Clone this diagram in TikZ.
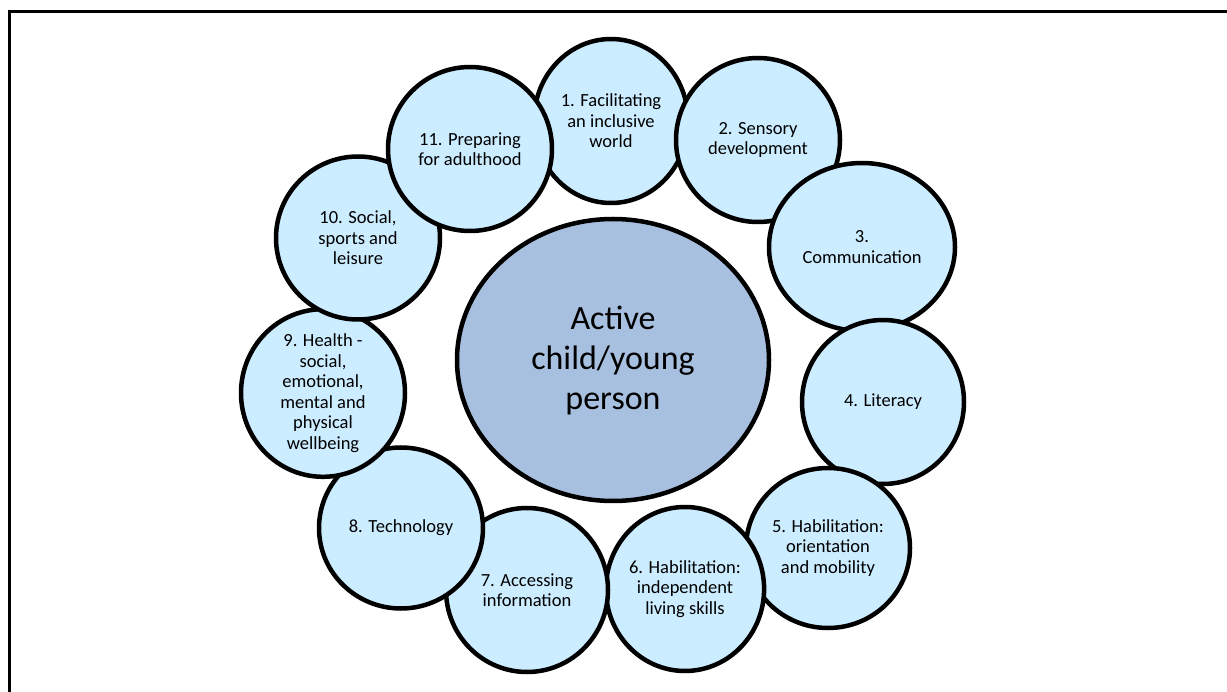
\documentclass[tikz,border=0pt]{standalone}
\usepackage{fontspec}
\setmainfont{Carlito}
\usetikzlibrary{shapes.geometric}

\definecolor{petalblue}{HTML}{CCECFF}
\definecolor{hubblue}{HTML}{A8C0DF}

\tikzset{
  petal/.style={ellipse,draw=black,line width=4.5pt,fill=petalblue,
    minimum width=164pt,minimum height=164pt,inner sep=0pt,align=center,
    font=\fontsize{18.5}{20.5}\selectfont},
  hub/.style={ellipse,draw=black,line width=4.5pt,fill=hubblue,
    minimum width=312pt,minimum height=282pt,inner sep=0pt,align=center,
    font=\fontsize{34}{40}\selectfont}
}

\begin{document}
\begin{tikzpicture}[x=1pt,y=-1pt]
  \useasboundingbox (0,0) rectangle (1227,692);
  % page frame, open to the right and at the bottom
  \draw[line width=2.7pt] (9.7,692) -- (9.7,11.3) -- (1227,11.3);
  % the child in the middle
  \node[hub] (hub) at (613,360) {Active\\child/young\\person};
  % the eleven areas, clockwise from the top; each one lies over the one before
  \node[petal,minimum width=154pt] (p1) at (611,121) {1. Facilitating\\an inclusive\\world};
  \node[petal] (p2) at (758,140) {2. Sensory\\development};
  \node[petal,minimum width=186pt,minimum height=168pt] (p3) at (862,247) {3.\\Communication};
  \node[petal,minimum width=162pt] (p4) at (883,402) {4. Literacy};
  \node[petal,minimum height=160pt] (p5) at (828,548) {5. Habilitation:\\orientation\\and mobility};
  \node[petal,minimum width=153pt] (p6) at (685,589) {6. Habilitation:\\independent\\living skills};
  \node[petal,minimum width=162pt] (p7) at (527,590) {7. Accessing\\information};
  \node[petal,minimum width=164pt,minimum height=161pt] (p8) at (401,528) {8. Technology};
  \node[petal] (p9) at (323,393) {9. Health -\\social,\\emotional,\\mental and\\physical\\wellbeing};
  \node[petal,minimum height=163pt] (p10) at (358,238) {10. Social,\\sports and\\leisure};
  \node[petal] (p11) at (470,149) {11. Preparing\\for adulthood};
\end{tikzpicture}
\end{document}
